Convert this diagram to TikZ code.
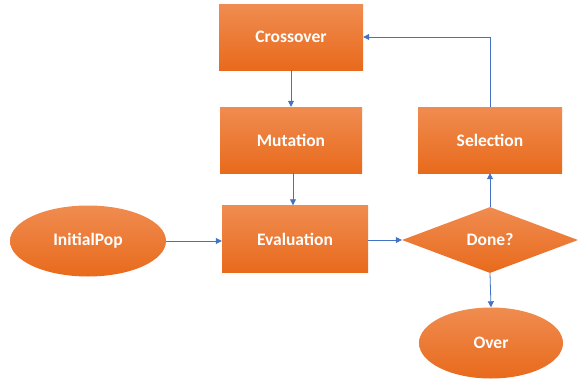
\documentclass[tikz,border=0pt]{standalone}
\usepackage{fontspec}
\setmainfont{Carlito}
\usetikzlibrary{shapes.geometric,arrows.meta}
\definecolor{otop}{HTML}{F08C50}
\definecolor{obot}{HTML}{E86A1C}
\definecolor{lblue}{HTML}{4472C4}
\tikzset{
  base/.style={top color=otop, bottom color=obot, draw=none, text=white, font=\bfseries\fontsize{17.5}{19}\selectfont, inner sep=0pt},
  box/.style={base, rectangle, minimum width=144pt, minimum height=66pt},
  oval/.style={base, ellipse, minimum width=156pt, minimum height=71pt},
  dia/.style={base, diamond, aspect=2.67, minimum width=176pt, minimum height=66pt},
  conn/.style={draw=lblue, line width=0.8pt, -{Triangle[length=6pt,width=6pt]}}
}
\begin{document}
\begin{tikzpicture}[x=1pt,y=-1pt]
\useasboundingbox (0,0) rectangle (578,380);
\node[box] (cross) at (291,37) {Crossover};
\node[box, minimum width=142pt] (mut) at (291,140) {Mutation};
\node[box, minimum width=146pt, minimum height=67pt] (eval) at (295,239) {Evaluation};
\node[box] (sel) at (490,140) {Selection};
\node[dia] (done) at (490,240) {Done?};
\node[oval] (init) at (88,241) {InitialPop};
\node[oval, minimum width=144pt] (over) at (491,343) {Over};
\draw[conn] (cross.south) -- (mut.north);
\draw[conn] (mut.south -| 293,0) -- (eval.north -| 293,0);
\draw[conn] (init.east) -- (eval.west |- init.east);
\draw[conn] (eval.east |- done.west) -- (done.west);
\draw[conn] (done.north) -- (sel.south);
\draw[conn] (done.south) -- (over.north);
\draw[conn] (sel.north) |- (cross.east);
\end{tikzpicture}
\end{document}
